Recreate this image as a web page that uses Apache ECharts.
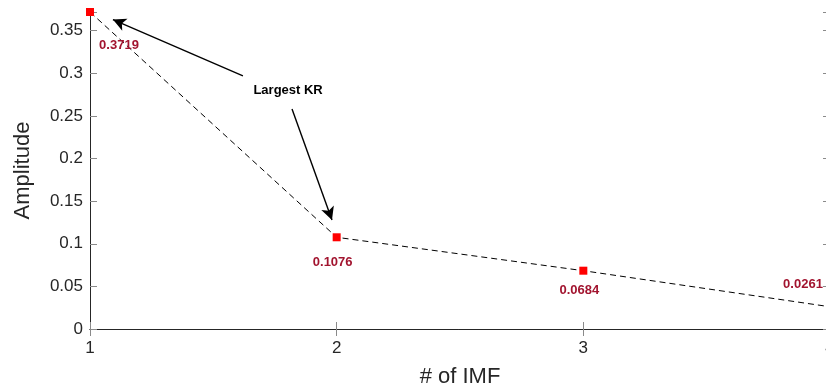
<!DOCTYPE html>
<html>
<head>
<meta charset="utf-8">
<style>
  html, body { margin: 0; padding: 0; background: #fff; }
  #chart { width: 826px; height: 389px; }
</style>
<script src="https://cdn.jsdelivr.net/npm/echarts@6/dist/echarts.min.js"></script>
</head>
<body>
<div id="chart"></div>
<script>
// Amplitude of each intrinsic mode function (IMF)
const imfIndex = [1, 2, 3, 4];
const amplitude = [0.3719, 0.1076, 0.0684, 0.0261];
const valueLabels = ['0.3719', '0.1076', '0.0684', '0.0261'];
// label offsets (px) relative to each marker
const labelOffsets = [[29, 33], [-4, 25], [-4, 20], [-27, -22]];
const yTicks = [0, 0.05, 0.1, 0.15, 0.2, 0.25, 0.3, 0.35];

// annotation: text and two arrows (in data coordinates)
const noteText = 'Largest KR';
const notePos = [1.803, 0.2795];
const arrows = [
  { from: [1.620, 0.297], to: [1.093, 0.363] },
  { from: [1.819, 0.258], to: [1.981, 0.128] }
];

const axisColor = '#262626';
const font = '"Liberation Sans", Arial, Helvetica, sans-serif';

const chart = echarts.init(document.getElementById('chart'), null, { renderer: 'canvas' });

const tickFmt = v => {
  const hit = yTicks.find(t => Math.abs(t - v) < 1e-9);
  return hit === undefined ? '' : String(hit);
};

const option = {
  animation: false,
  backgroundColor: '#ffffff',
  grid: {
    left: 90, width: 740, top: 12, height: 317,
    containLabel: false, outerBoundsMode: 'none'
  },
  xAxis: [
    {
      type: 'value', min: 1, max: 4, interval: 1, position: 'bottom',
      name: '# of IMF', nameLocation: 'middle', nameGap: 37,
      nameTextStyle: { fontSize: 22, color: axisColor, fontFamily: font },
      axisLine: { show: true, lineStyle: { color: axisColor, width: 1 } },
      axisTick: { show: true, inside: true, length: 7, lineStyle: { color: '#8a8a8a', width: 1 } },
      axisLabel: { fontSize: 17, color: axisColor, fontFamily: font, margin: 11, showMaxLabel: true },
      splitLine: { show: false }
    },
    {
      type: 'value', min: 1, max: 4, interval: 1, position: 'top',
      axisLine: { show: true, lineStyle: { color: axisColor, width: 1 } },
      axisTick: { show: true, inside: true, length: 7, lineStyle: { color: '#8a8a8a', width: 1 } },
      axisLabel: { show: false },
      splitLine: { show: false }
    }
  ],
  yAxis: [
    {
      type: 'value', min: 0, max: 0.3719, interval: 0.05, position: 'left',
      name: 'Amplitude', nameLocation: 'middle', nameGap: 56,
      nameTextStyle: { fontSize: 22, color: axisColor, fontFamily: font },
      axisLine: { show: true, lineStyle: { color: axisColor, width: 1 } },
      axisTick: { show: true, inside: true, length: 7, lineStyle: { color: '#8a8a8a', width: 1 } },
      axisLabel: { fontSize: 17, color: axisColor, fontFamily: font, margin: 7, formatter: tickFmt },
      splitLine: { show: false }
    },
    {
      type: 'value', min: 0, max: 0.3719, interval: 0.05, position: 'right',
      axisLine: { show: true, lineStyle: { color: axisColor, width: 1 } },
      axisTick: { show: true, inside: true, length: 7, lineStyle: { color: '#8a8a8a', width: 1 } },
      axisLabel: { show: false },
      splitLine: { show: false }
    }
  ],
  series: [
    {
      type: 'line',
      xAxisIndex: 0, yAxisIndex: 0,
      clip: false,
      data: imfIndex.map((x, i) => ({
        value: [x, amplitude[i]],
        label: {
          show: true,
          position: 'inside',
          offset: labelOffsets[i],
          formatter: valueLabels[i]
        }
      })),
      symbol: 'rect',
      symbolSize: 8,
      itemStyle: { color: '#ff0000' },
      lineStyle: { color: '#000000', width: 1, type: [6, 4] },
      label: {
        color: '#A2142F', fontWeight: 'bold', fontSize: 13, fontFamily: font
      },
      markLine: {
        silent: true,
        symbol: ['none', 'arrow'],
        symbolSize: [10, 13],
        lineStyle: { color: '#000000', width: 1.4, type: 'solid' },
        label: { show: false },
        data: arrows.map(a => [
          { coord: a.from },
          { coord: a.to }
        ])
      },
      markPoint: {
        silent: true,
        symbol: 'circle',
        symbolSize: 0,
        data: [{ coord: notePos }],
        label: {
          show: true, position: 'inside', formatter: noteText,
          color: '#000000', fontWeight: 'bold', fontSize: 13, fontFamily: font
        }
      }
    }
  ]
};

chart.setOption(option);
</script>
</body>
</html>
